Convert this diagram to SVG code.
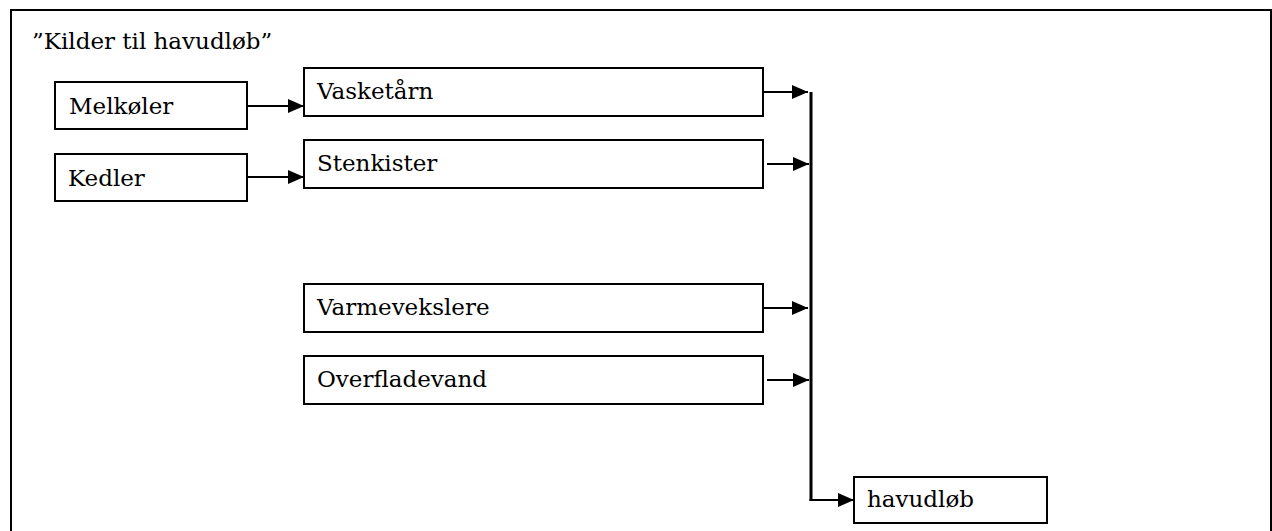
<svg xmlns="http://www.w3.org/2000/svg" width="1272" height="531" viewBox="0 0 1272 531">
<style>
.box{fill:#fff;stroke:#000;stroke-width:2}
.t{font-family:"DejaVu Serif","Liberation Serif",serif;font-size:23px;fill:#000}
.c{fill:none;stroke:#000;stroke-width:2}
.bar{fill:none;stroke:#000;stroke-width:3}
</style>
<defs>
<marker id="ah" viewBox="0 0 16 14" markerWidth="16" markerHeight="14" refX="16" refY="7" orient="auto" markerUnits="userSpaceOnUse">
<path d="M0,0 L16,7 L0,14 Z" fill="#000"/>
</marker>
</defs>
<rect x="0" y="0" width="1272" height="531" fill="#fff"/>
<rect x="11" y="10" width="1260" height="530" fill="none" stroke="#000" stroke-width="2"/>
<text class="t" x="32" y="49">”Kilder til havudløb”</text>
<g id="melkoler"><rect class="box" x="55" y="82" width="192" height="47"/><text class="t" x="69" y="114">Melkøler</text></g>
<g id="kedler"><rect class="box" x="55" y="154" width="192" height="47"/><text class="t" x="68" y="186">Kedler</text></g>
<g id="vasketarn"><rect class="box" x="304" y="68" width="459" height="48"/><text class="t" x="317" y="99">Vasketårn</text></g>
<g id="stenkister"><rect class="box" x="304" y="140" width="459" height="48"/><text class="t" x="317" y="171">Stenkister</text></g>
<g id="varmevekslere"><rect class="box" x="304" y="284" width="459" height="48"/><text class="t" x="317" y="315">Varmevekslere</text></g>
<g id="overfladevand"><rect class="box" x="304" y="356" width="459" height="48"/><text class="t" x="317" y="387">Overfladevand</text></g>
<g id="havudlob"><rect class="box" x="854" y="477" width="193" height="46"/><text class="t" x="867" y="507">havudløb</text></g>
<g id="connectors">
<line class="c" x1="247" y1="106" x2="304" y2="106" marker-end="url(#ah)"/>
<line class="c" x1="247" y1="177" x2="304" y2="177" marker-end="url(#ah)"/>
<line class="c" x1="763" y1="92" x2="808" y2="92" marker-end="url(#ah)"/>
<line class="c" x1="767" y1="164" x2="809" y2="164" marker-end="url(#ah)"/>
<line class="c" x1="763" y1="308" x2="808" y2="308" marker-end="url(#ah)"/>
<line class="c" x1="767" y1="380" x2="809" y2="380" marker-end="url(#ah)"/>
<line class="bar" x1="811" y1="92" x2="811" y2="501"/>
<line class="c" x1="809.5" y1="500" x2="854" y2="500" marker-end="url(#ah)"/>
</g>
</svg>
